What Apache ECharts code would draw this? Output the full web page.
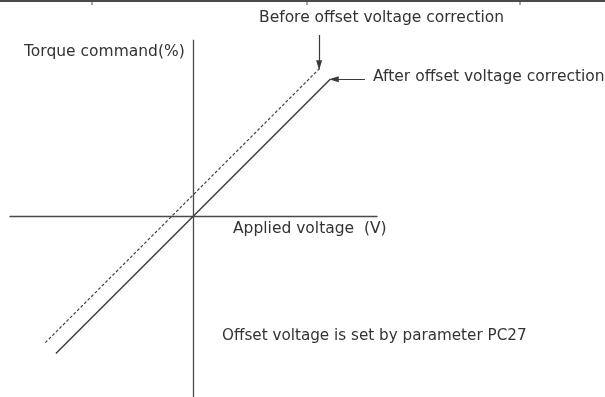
<!DOCTYPE html>
<html>
<head>
<meta charset="utf-8">
<script src="https://cdn.jsdelivr.net/npm/echarts@6/dist/echarts.min.js"></script>
<style>
  html, body { margin: 0; padding: 0; background: #fff; }
  #chart { width: 605px; height: 397px; }
</style>
</head>
<body>
<div id="chart"></div>
<script>
// Axis extents: applied voltage (V) and torque command (%)
const voltRange = [-10.4, 10.4];
const torqueRange = [-102.6, 110];

// Vertical (torque) axis span, in %
const torqueAxisSpan = [-102.6, 100];

// Characteristic after offset correction: passes through the origin
const afterVolt = [-7.8, 0, 7.75];
const afterTorque = [-78, 0, 77.5];

// Characteristic before offset correction: shifted by the offset voltage
const beforeVolt = [-8.4, -1.22, 7.2];
const beforeTorque = [-71.8, 0, 84.2];

// Annotation arrows: [tail, head] in (V, %)
const beforeArrow = [[7.12, 102.6], [7.12, 85.5]];
const afterArrow = [[9.72, 77.6], [7.95, 77.6]];

// Texts
const titleBefore = 'Before offset voltage correction';
const titleAfter = 'After offset voltage correction';
const yName = 'Torque command(%)';
const xName = 'Applied voltage  (V)';
const note = 'Offset voltage is set by parameter PC27';

const zip = (xs, ys) => xs.map((x, i) => [x, ys[i]]);
const ink = '#3a3a3a';
const font = 'DejaVu Sans';
const headPath = 'path://M5,0 L10,16 L0,16 Z';

const arrowLine = (pts) => [
  { coord: pts[0], symbol: 'none' },
  { coord: pts[1], symbol: headPath, symbolSize: [6, 10] }
];

const chart = echarts.init(document.getElementById('chart'), null, { renderer: 'canvas' });

// Free text placed by its left edge and vertical centre
const label = (txt, left, cy, size) => ({
  type: 'text',
  left: left,
  top: cy - Math.round(size * 0.6),
  style: { text: txt, fill: '#333', font: size + 'px "' + font + '"' },
  silent: true
});

chart.setOption({
  animation: false,
  backgroundColor: '#fff',
  grid: { left: 10, right: 228, top: 22, bottom: 0, containLabel: false },
  xAxis: {
    type: 'value',
    min: voltRange[0], max: voltRange[1],
    axisLine: { show: true, onZero: true, lineStyle: { color: '#4a4a4a', width: 1.3 } },
    axisTick: { show: false },
    axisLabel: { show: false },
    splitLine: { show: false }
  },
  yAxis: {
    type: 'value',
    min: torqueRange[0], max: torqueRange[1],
    axisLine: { show: false },
    axisTick: { show: false },
    axisLabel: { show: false },
    splitLine: { show: false }
  },
  series: [
    {
      name: 'axes',
      type: 'line',
      data: [],
      silent: true,
      markLine: {
        silent: true,
        symbol: 'none',
        label: { show: false },
        lineStyle: { color: '#4a4a4a', width: 1.3, type: 'solid' },
        data: [
          [{ coord: [0, torqueAxisSpan[1]] }, { coord: [0, torqueAxisSpan[0]] }]
        ]
      }
    },
    {
      name: titleBefore,
      type: 'line',
      data: zip(beforeVolt, beforeTorque),
      showSymbol: false,
      silent: true,
      lineStyle: { color: '#444', width: 1.2, type: [3, 2] }
    },
    {
      name: titleAfter,
      type: 'line',
      data: zip(afterVolt, afterTorque),
      showSymbol: false,
      silent: true,
      lineStyle: { color: ink, width: 1.4 }
    },
    {
      name: 'arrows',
      type: 'line',
      data: [],
      silent: true,
      markLine: {
        silent: true,
        label: { show: false },
        lineStyle: { color: ink, width: 1.2, type: 'solid' },
        itemStyle: { color: ink },
        data: [arrowLine(beforeArrow), arrowLine(afterArrow)]
      }
    }
  ],
  graphic: [
    // frame rule along the top edge
    { type: 'line', shape: { x1: 0, y1: 1, x2: 605, y2: 1 }, style: { stroke: '#4a4a4a', lineWidth: 2 }, silent: true },
    { type: 'line', shape: { x1: 92, y1: 0, x2: 92, y2: 5 }, style: { stroke: '#4a4a4a', lineWidth: 1 }, silent: true },
    { type: 'line', shape: { x1: 307, y1: 0, x2: 307, y2: 5 }, style: { stroke: '#4a4a4a', lineWidth: 1 }, silent: true },
    { type: 'line', shape: { x1: 520, y1: 0, x2: 520, y2: 5 }, style: { stroke: '#4a4a4a', lineWidth: 1 }, silent: true },
    label(titleBefore, 259, 19, 15.5),
    label(yName, 24, 53, 15.5),
    label(titleAfter, 373, 78, 15.5),
    label(xName, 233, 230, 15.5),
    label(note, 222, 338, 15.2)
  ]
});
</script>
</body>
</html>
